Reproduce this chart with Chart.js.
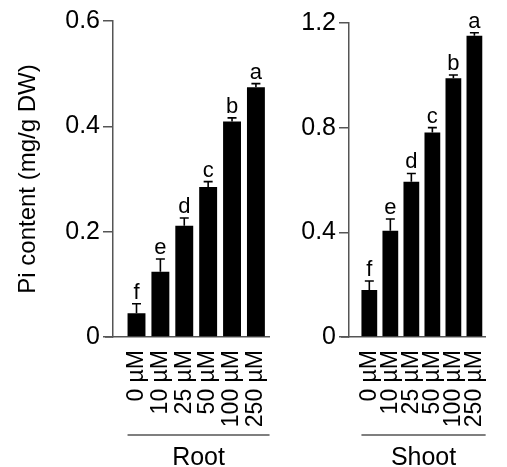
<!DOCTYPE html>
<html>
<head>
<meta charset="utf-8">
<script src="https://cdn.jsdelivr.net/npm/chart.js@4"></script>
<style>
    html, body { margin: 0; padding: 0; background: #fff; }
    #wrap { position: relative; width: 507px; height: 467px; overflow: hidden; }
    canvas { position: absolute; top: 0; }
    #root-chart { left: 0; }
    #shoot-chart { left: 290px; }
</style>
</head>
<body>
<div id="wrap">
    <canvas id="root-chart" width="290" height="467"></canvas>
    <canvas id="shoot-chart" width="217" height="467"></canvas>
</div>
<script>
const concentrations = ['0 µM', '10 µM', '25 µM', '50 µM', '100 µM', '250 µM'];
const letters = ['f', 'e', 'd', 'c', 'b', 'a'];

const root_pi = [0.045, 0.124, 0.211, 0.285, 0.409, 0.474];
const root_err = [0.018, 0.024, 0.015, 0.010, 0.007, 0.007];

const shoot_pi = [0.180, 0.406, 0.593, 0.782, 0.989, 1.151];
const shoot_err = [0.034, 0.045, 0.032, 0.018, 0.012, 0.012];

const root_ticks = [0, 0.2, 0.4, 0.6];
const shoot_ticks = [0, 0.4, 0.8, 1.2];

const FONT = '"Liberation Sans", Arial, Helvetica, sans-serif';
const AXIS = '#555';

// error bars (upper half only), letters and the group line underneath
const bar_notes = {
    id: 'barNotes',
    afterDatasetsDraw(chart, args, opts) {
        const ctx = chart.ctx, y = chart.scales.y;
        const meta = chart.getDatasetMeta(0);
        ctx.save();
        ctx.strokeStyle = '#000';
        ctx.fillStyle = '#000';
        ctx.lineWidth = 1.6;
        ctx.font = '22px ' + FONT;
        ctx.textAlign = 'center';
        meta.data.forEach((bar, i) => {
            const top = y.getPixelForValue(opts.values[i] + opts.errors[i]);
            ctx.beginPath();
            ctx.moveTo(bar.x, bar.y);
            ctx.lineTo(bar.x, top);
            ctx.moveTo(bar.x - 4.5, top);
            ctx.lineTo(bar.x + 4.5, top);
            ctx.stroke();
            ctx.fillText(letters[i], bar.x, top - 5);
        });
        ctx.restore();
    },
    afterDraw(chart, args, opts) {
        const ctx = chart.ctx, area = chart.chartArea;
        const first = chart.getDatasetMeta(0).data[0];
        const start = first.x - first.width / 2;
        const line_y = area.bottom + 98;
        ctx.save();
        ctx.strokeStyle = AXIS;
        ctx.lineWidth = 1.5;
        ctx.beginPath();
        ctx.moveTo(area.left - 8, area.bottom);
        ctx.lineTo(area.left, area.bottom);
        ctx.moveTo(start, line_y);
        ctx.lineTo(area.right, line_y);
        ctx.stroke();
        ctx.fillStyle = '#000';
        ctx.font = '25px ' + FONT;
        ctx.textAlign = 'center';
        ctx.fillText(opts.group, (start + area.right) / 2, area.bottom + 128);
        ctx.restore();
    }
};

const make_chart = (id, values, errors, ticks, group, setup) => {
    const ctx = document.getElementById(id).getContext('2d');
    return new Chart(ctx, {
        type: 'bar',
        data: {
            datasets: [{
                data: values.map((v, i) => ({x: i + 1, y: v})),
                backgroundColor: '#000',
                borderWidth: 0,
                barPercentage: 0.75,
                categoryPercentage: 1,
            }]
        },
        options: {
            responsive: false,
            animation: false,
            layout: {padding: {top: setup.top, right: setup.right, bottom: 0, left: 0}},
            plugins: {
                legend: {display: false},
                tooltip: {enabled: false},
                barNotes: {values, errors, group},
            },
            scales: {
                x: {
                    type: 'linear',
                    min: setup.xmin,
                    max: setup.xmax,
                    offset: false,
                    grid: {display: false, offset: false},
                    border: {display: true, color: AXIS, width: 1.5},
                    afterBuildTicks: (scale) => {
                        scale.ticks = concentrations.map((c, i) => ({value: i + 1}));
                    },
                    afterFit: (scale) => { scale.height = 130; },
                    ticks: {
                        autoSkip: false,
                        minRotation: 90,
                        maxRotation: 90,
                        padding: 5,
                        color: '#000',
                        font: {family: FONT, size: 23},
                        callback: (value) => concentrations[value - 1] || '',
                    },
                },
                y: {
                    min: ticks[0],
                    max: ticks[ticks.length - 1],
                    afterBuildTicks: (scale) => {
                        scale.ticks = ticks.map((t) => ({value: t}));
                    },
                    afterFit: (scale) => { scale.width = setup.ywidth; },
                    grid: {drawOnChartArea: false, drawTicks: true, tickLength: 10, color: AXIS, lineWidth: 1.5},
                    border: {display: true, color: AXIS, width: 1.5},
                    ticks: {
                        padding: 3,
                        color: '#000',
                        font: {family: FONT, size: 25},
                        callback: (value) => String(value),
                    },
                    title: {
                        display: setup.title,
                        text: 'Pi content (mg/g DW)',
                        color: '#000',
                        font: {family: FONT, size: 24},
                        padding: {top: 14, bottom: 0},
                    },
                },
            },
        },
        plugins: [bar_notes],
    });
};

make_chart('root-chart', root_pi, root_err, root_ticks, 'Root',
    {top: 21, right: 17, ywidth: 113, xmin: 0.016, xmax: 6.57, title: true});
make_chart('shoot-chart', shoot_pi, shoot_err, shoot_ticks, 'Shoot',
    {top: 23, right: 0, ywidth: 59, xmin: 0.033, xmax: 6.535, title: false});
</script>
</body>
</html>
